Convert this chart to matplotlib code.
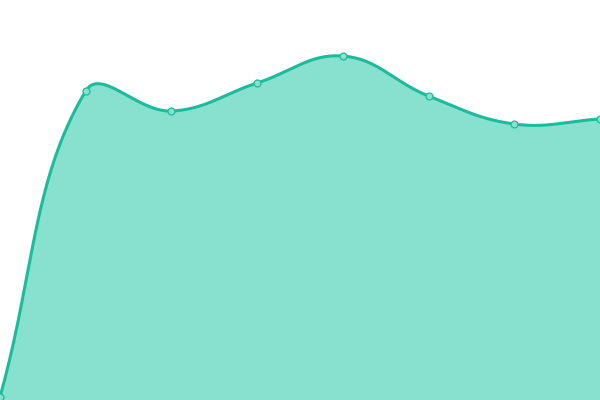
import numpy as np
import matplotlib
matplotlib.use("Agg")
import matplotlib.pyplot as plt

categories = ["A", "B", "C", "D", "E", "F", "G", "H"]
values = [3, 309, 289, 317, 344, 304, 276, 281]

LINE = "#1abc9c"
FILL = "#88e0cf"

fig = plt.figure(figsize=(6, 4), dpi=100)
ax = fig.add_axes([0, 0, 1, 1])
ax.set_xlim(0, len(categories) - 1)
ax.set_ylim(0, 400)
ax.axis("off")

xs = np.arange(len(categories), dtype=float)
pts = ax.transData.transform(np.column_stack([xs, values]))

def smooth_path(p, t_=0.4, n=40):
    m = len(p)
    cps_out, cps_in = [], []
    for i in range(m):
        prev = p[i - 1] if i > 0 else p[i]
        cur = p[i]
        nxt = p[i + 1] if i < m - 1 else p[i]
        d01 = np.hypot(*(cur - prev)); d12 = np.hypot(*(nxt - cur))
        s = d01 + d12
        fa = t_ * d01 / s if s else 0
        fb = t_ * d12 / s if s else 0
        cps_in.append(cur - fa * (nxt - prev))
        cps_out.append(cur + fb * (nxt - prev))
    out = [p[0]]
    t = np.linspace(0, 1, n)[1:, None]
    for i in range(m - 1):
        a, b, c, d = p[i], cps_out[i], cps_in[i + 1], p[i + 1]
        seg = ((1 - t) ** 3) * a + 3 * ((1 - t) ** 2) * t * b + 3 * (1 - t) * t ** 2 * c + t ** 3 * d
        out.extend(seg)
    return np.array(out)

curve = ax.transData.inverted().transform(smooth_path(pts))
ax.fill_between(curve[:, 0], curve[:, 1], 0, color=FILL, lw=0)
ax.plot(curve[:, 0], curve[:, 1], color=LINE, lw=2.2, solid_capstyle="round")
ax.plot(xs, values, "o", ms=5, mfc=FILL, mec=LINE, mew=0.9)

fig.savefig("out.png", dpi=100)
